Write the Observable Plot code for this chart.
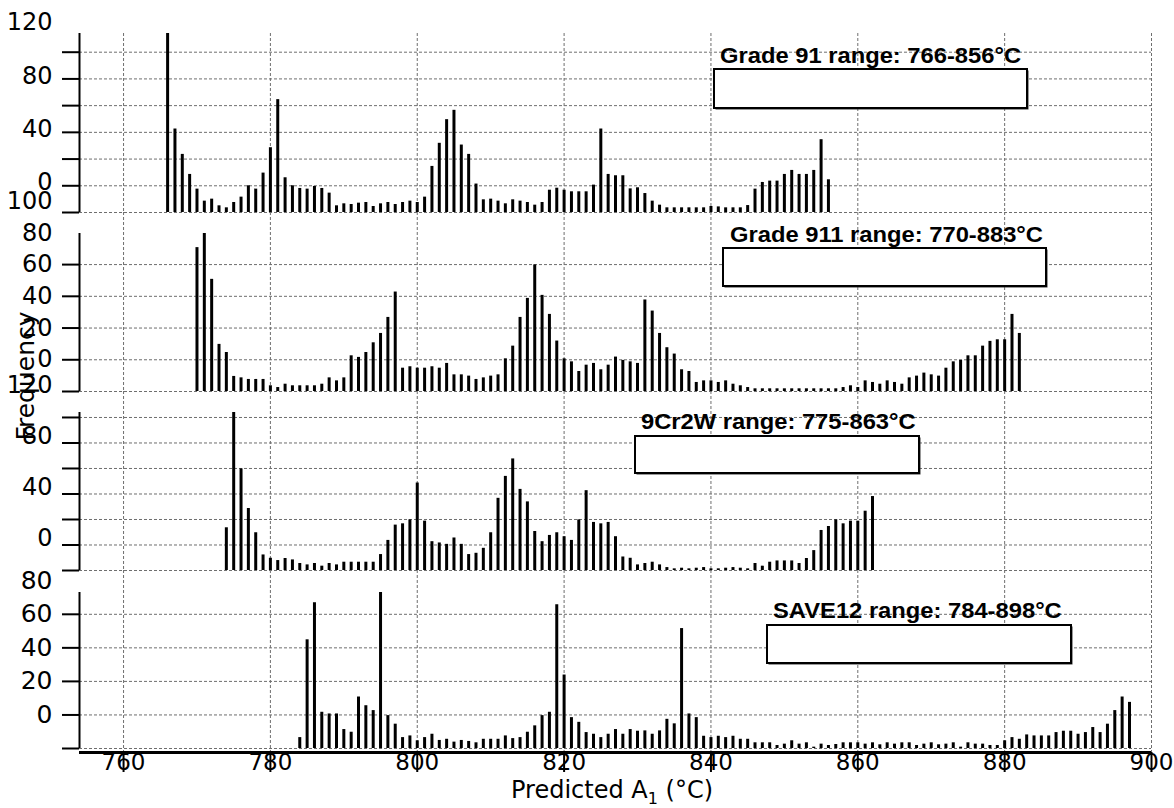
<!DOCTYPE html>
<html>
<head>
<meta charset="utf-8">
<script src="https://cdn.jsdelivr.net/npm/d3@7"></script>
<script src="https://cdn.jsdelivr.net/npm/@observablehq/plot@0.6"></script>
<style>
  html, body { margin: 0; padding: 0; background: #fff; }
  #chart { position: relative; width: 1174px; height: 808px; overflow: hidden; background: #fff; }
  #chart svg.layer { position: absolute; left: 0; top: 0; }
</style>
</head>
<body>
<div id="chart"></div>
<script>
// Predicted A1 temperature histograms for four steel grades (one bar per °C).
const xTicks = [760, 780, 800, 820, 840, 860, 880, 900];

const grade91Start = 766;
const grade91Freq = [
  114, 42.5, 23.5, 8.5, -2.5, -11.5, -10, -15, -16.5, -12.5, -8.5, 0, -2.5, 9.5,
  28.5, 64.5, 6, 0, -2, -2.5, -0.5, -2, -5.5, -15,
  -13.5, -14, -13, -12.5, -15.5, -13.5, -12.5, -14, -12.5, -11.5,
  -12.5, -8.5, 14.5, 31.8, 49.5, 56.5, 30.5, 23.5, 1.3, -10.5,
  -10, -11.5, -13.5, -10.5, -11.5, -12.5, -14.5, -12.5, -3.3, -1.8,
  -3.3, -4.5, -4.5, -4.5, 0.5, 42.5, 8.5, 7.5, 7.5, -2.3,
  -1.5, -5.8, -11.5, -14.5, -16.5, -16.5, -16.5, -16.5, -16.5, -16.5,
  -15.5, -15.8, -16.5, -16.5, -16.5, -14.8, -2.5, 2.5, 3.5, 3.5,
  8.5, 11.5, 8.5, 8.5, 11.5, 34.5, 4.5
];

const grade911Start = 770;
const grade911Freq = [
  70.7, 79.6, 50.7, 9.7, 4.6, -10.5, -11.4, -12.4, -12.4, -12.4,
  -16.4, -17.5, -15.4, -16.4, -16.4, -16.4, -16.4, -15.4, -11.4, -13.3,
  -11.4, 2.5, 1.5, 4.6, 10.7, 16.6, 26.7, 42.7, -5.3, -4.4,
  -5.3, -5.3, -4.4, -5.3, -2.3, -9.5, -9.5, -10.3, -12.4, -11.4,
  -10.3, -9.5, 0.6, 8.6, 26.7, 38.7, 59.8, 40.6, 28.6, 11.8,
  0.6, -1.3, -7.4, -3.4, -2.3, -6.3, -3.4, 1.7, -0.4, -1.3,
  -2.3, 37.7, 30.7, 16.6, 7.6, 3.6, -6.3, -7.4, -14.3, -13.3,
  -13.3, -14.3, -13.3, -15.4, -16.4, -17.5, -18.3, -18.3, -18.3, -18.3,
  -18.3, -18.3, -18.3, -18.3, -18.3, -18.3, -18.3, -18.3, -17.5, -16.4,
  -17.5, -13.3, -14.3, -15.4, -13.3, -14.3, -15.4, -11.4, -10.3, -8.4,
  -9.5, -10.3, -5.3, -1.3, -0.4, 2.5, 2.5, 8.6, 11.6, 12.6,
  12.6, 28.6, 16.6
];

const cr2wStart = 774;
const cr2wFreq = [
  13.5, 103.9, 59.7, 28.6, 9.6, -7.8,
  -10.4, -12.2, -10.6, -11.7, -14.5, -15.6, -14.5, -16.6, -14.5, -15.6,
  -13.5, -13.5, -13.5, -13.5, -13.5, -7.5, 3.6, 15.6, 16.6, 19.7,
  48.6, 18.7, 2.6, 1.6, 0.5, 5.5, 0.5, -7.5, -6.5, -2.6,
  9.6, 36.6, 53.8, 67.5, 43.6, 33.8, 10.6, 2.6, 7.5, 9.6,
  6.5, 3.6, 19.7, 42.6, 17.7, 16.6, 17.7, 6.5, -9.4, -10.4,
  -15.6, -14.5, -13.5, -15.6, -17.7, -18.7, -18.2, -18.7, -18.2, -17.7,
  -18.7, -18.7, -18.2, -17.7, -18.2, -18.7, -14.5, -16.6, -13.5, -12.5,
  -12.5, -12.5, -14.5, -10.6, -4.4, 11.4, 14.5, 19.7, 16.6, 18.7, 18.7,
  26.5, 38
];

const save12Start = 784;
const save12Freq = [
  -13.5, 44.8, 66.9, 1.6, 0.6, 0.6,
  -8.7, -10.3, 10.7, 5.5, 2.6, 73, -0.4, -5.5, -13.5, -12.5,
  -15.4, -13.5, -11.5, -15.2, -14.5, -16.2, -15.2, -15.8, -16.6, -14.5,
  -14.5, -14.5, -12.5, -14.1, -13.5, -10.3, -6.5, -0.4, 1.6, 65.7,
  23.8, -1.6, -4.4, -10.5, -11.5, -13.5, -11.5, -8.7, -11.5, -8.7,
  -9.7, -9.5, -11.5, -9.5, -2.6, -5.3, 51.5, 0.6, -1.6, -12.7,
  -13.5, -12.7, -13.5, -12.7, -14.5, -14.5, -16.6, -16.6, -16.6, -18.2,
  -17.4, -15.4, -17.4, -16.6, -19.2, -17.4, -18.2, -17.6, -16.6, -16.6,
  -16.6, -17.4, -16.6, -17.8, -16.6, -17.4, -16.6, -16.6, -18.2, -17.4,
  -16.6, -17.8, -17.4, -16.6, -19.2, -16.6, -17.4, -17.4, -18.2, -18.2,
  -15.4, -13.5, -14.5, -11.9, -12.5, -12.5, -12.5, -10.5, -9.7, -9.7,
  -11.5, -10.5, -7.5, -10.5, -5.5, 2.6, 10.7, 7.5
];

// y tick labels shown on each panel
const grade91Labels = [0, 40, 80, 120];
const grade911Labels = [0, 20, 40, 60, 80, 100];
const cr2wLabels = [0, 40, 80, 120];
const save12Labels = [0, 20, 40, 60, 80];

const panelTitles = [
  "Grade 91 range: 766-856°C",
  "Grade 911 range: 770-883°C",
  "9Cr2W range: 775-863°C",
  "SAVE12 range: 784-898°C"
];

// ---- layout ----
const W = 1174, H = 808;
const FRAME_LEFT = 79, FRAME_RIGHT = 1151;
const X_DOMAIN = [754, 900];
const Y_FLOOR = -20;
const FONT = "'DejaVu Sans', 'Liberation Sans', sans-serif";
const GRID = {stroke: "#6e6e6e", strokeOpacity: 1, strokeWidth: 1, strokeDasharray: "3,2"};

const panels = [
  {start: grade91Start, freq: grade91Freq, labels: grade91Labels, top: 33, bottom: 212, gapAbove: 0, labelDy: -3, fontSize: 24,
   title: panelTitles[0], titleAt: [720, 63], box: [714, 69, 1027, 108]},
  {start: grade911Start, freq: grade911Freq, labels: grade911Labels, top: 233, bottom: 391, gapAbove: 21, labelDy: 0, fontSize: 24,
   title: panelTitles[1], titleAt: [730, 242], box: [723, 248, 1046, 286]},
  {start: cr2wStart, freq: cr2wFreq, labels: cr2wLabels, top: 412, bottom: 570, gapAbove: 21, labelDy: -7, fontSize: 24,
   title: panelTitles[2], titleAt: [641, 429], box: [635, 436, 919, 473]},
  {start: save12Start, freq: save12Freq, labels: save12Labels, top: 592, bottom: 748, gapAbove: 22, labelDy: 0, fontSize: 25,
   title: panelTitles[3], titleAt: [773, 618], box: [767, 625, 1071, 663]}
];

const chart = document.getElementById("chart");

panels.forEach((p, k) => {
  const last = k === panels.length - 1;
  const rows = p.freq.map((f, i) => ({temp: p.start + i, freq: f}));
  const yMax = d3.max(p.freq);
  const yTicks = d3.range(Y_FLOOR, yMax + 1e-6, 20);

  const marks = [
    Plot.gridY(yTicks, GRID),
    Plot.gridX(xTicks, {...GRID, insetTop: -p.gapAbove, insetBottom: last ? -4 : 0}),
    Plot.ruleX(rows, {x: "temp", y1: Y_FLOOR, y2: "freq", stroke: "black", strokeWidth: 3}),
    Plot.ruleX([X_DOMAIN[0]], {stroke: "black", strokeWidth: 2}),
    Plot.axisY(yTicks, {tickSize: 17, tickFormat: () => "", strokeWidth: 2, label: null}),
    Plot.axisY(p.labels, {tickSize: 0, tickPadding: 27, fontSize: p.fontSize, dy: p.labelDy, label: null})
  ];
  if (last) {
    marks.push(
      Plot.ruleY([Y_FLOOR], {dy: 4, stroke: "black", strokeWidth: 3}),
      Plot.axisX(xTicks, {anchor: "bottom", tickSize: 20, dy: 4, tickFormat: () => "", strokeWidth: 2, label: null}),
      Plot.axisX(xTicks, {anchor: "bottom", tickSize: 0, tickPadding: 1, dy: 4, fontSize: 23, label: null})
    );
  }

  const svg = Plot.plot({
    width: W, height: H,
    marginLeft: FRAME_LEFT, marginRight: W - FRAME_RIGHT,
    marginTop: p.top, marginBottom: H - p.bottom,
    x: {domain: X_DOMAIN, axis: null},
    y: {domain: [Y_FLOOR, yMax], axis: null},
    style: {background: "transparent", overflow: "visible", fontFamily: FONT, color: "black"},
    marks
  });
  svg.classList.add("layer");
  chart.appendChild(svg);
});

// ---- annotation layer: series boxes, titles, axis titles ----
const over = d3.select(chart).append("svg")
  .attr("class", "layer")
  .attr("width", W).attr("height", H)
  .style("overflow", "visible");

panels.forEach(p => {
  const [x0, y0, x1, y1] = p.box;
  over.append("rect")
    .attr("x", x0 + 1.5).attr("y", y0 + 1.5)
    .attr("width", x1 - x0).attr("height", y1 - y0)
    .attr("fill", "#333");
  over.append("rect")
    .attr("x", x0).attr("y", y0)
    .attr("width", x1 - x0).attr("height", y1 - y0)
    .attr("fill", "white").attr("stroke", "black").attr("stroke-width", 2);
  over.append("text")
    .attr("transform", `translate(${p.titleAt[0]},${p.titleAt[1]}) scale(1.08,1)`)
    .attr("font-family", "'Liberation Sans', Arial, sans-serif")
    .attr("font-weight", "bold")
    .attr("font-size", 22)
    .text(p.title);
});

over.append("text")
  .attr("transform", "translate(34,376) rotate(-90)")
  .attr("text-anchor", "middle")
  .attr("font-family", FONT)
  .attr("font-size", 25)
  .text("Frequency");

const xt = over.append("text")
  .attr("x", 612).attr("y", 798)
  .attr("text-anchor", "middle")
  .attr("font-family", FONT)
  .attr("font-size", 24);
xt.append("tspan").text("Predicted A");
xt.append("tspan").attr("dy", 6).attr("font-size", 16).text("1");
xt.append("tspan").attr("dy", -6).text(" (°C)");
</script>
</body>
</html>
